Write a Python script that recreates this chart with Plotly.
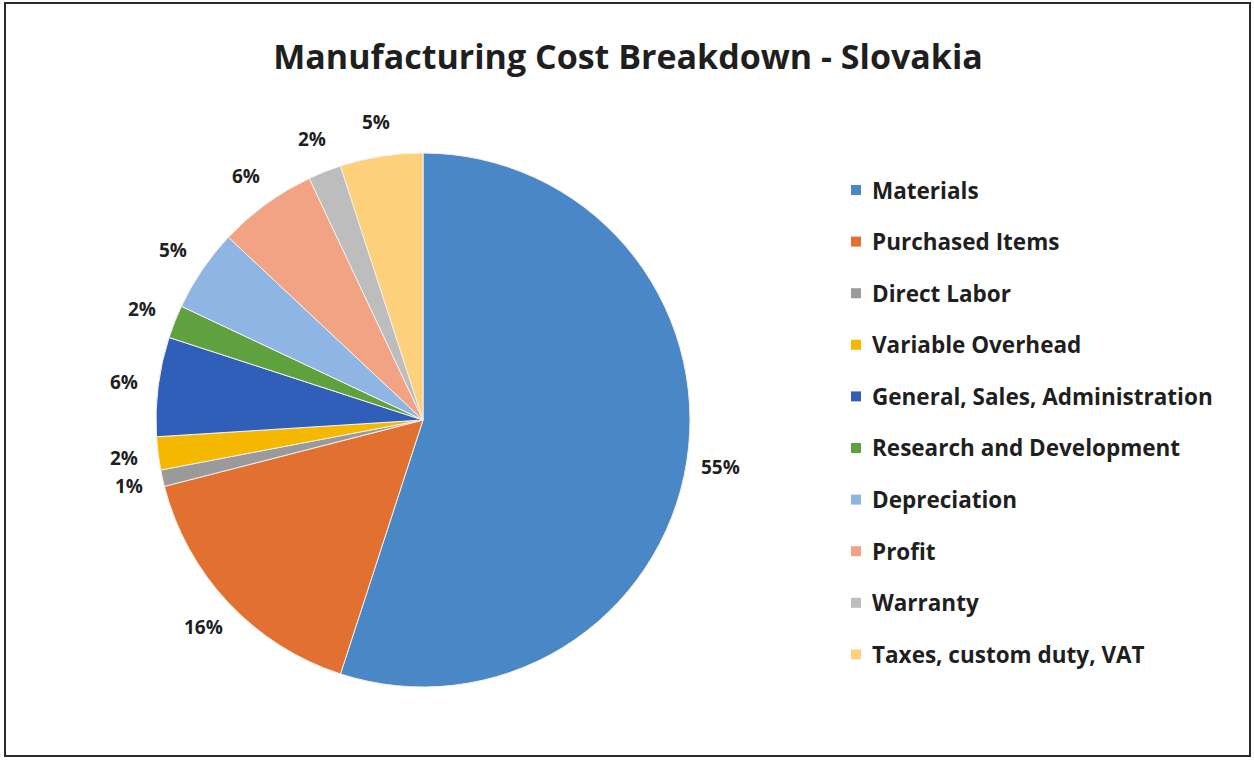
import math
import plotly.graph_objects as go

# Cost components and their share of the total (%)
categories = [
    "Materials", "Purchased Items", "Direct Labor", "Variable Overhead",
    "General, Sales, Administration", "Research and Development",
    "Depreciation", "Profit", "Warranty", "Taxes, custom duty, VAT",
]
shares = [55, 16, 1, 2, 6, 2, 5, 6, 2, 5]
colors = [
    "#4a87c6", "#e27131", "#9a9a9a", "#f5b800", "#2f5fb8",
    "#5fa03f", "#8eb5e3", "#f2a384", "#bdbdbd", "#fdd07c",
]

W, H = 1254, 760
cx, cy, R = 423, 420, 267          # pie centre and radius in pixels
FONT = "Open Sans"
TXT = "#1f1f1f"

fig = go.Figure()
fig.add_trace(go.Pie(
    labels=categories,
    values=shares,
    sort=False,
    direction="clockwise",
    rotation=0,
    marker=dict(colors=colors, line=dict(color="#f4efe8", width=1)),
    textinfo="none",
    hoverinfo="label+percent",
    showlegend=False,
    domain=dict(x=[(cx - R) / W, (cx + R) / W],
                y=[(H - cy - R) / H, (H - cy + R) / H]),
))

# Percentage labels placed outside each slice, along the slice's mid-angle
total = sum(shares)
cum = 0
annotations = []
for v in shares:
    mid = (cum + v / 2) / total * 2 * math.pi   # clockwise from 12 o'clock
    cum += v
    dist = R * 1.13
    px = cx + dist * math.sin(mid)
    py = cy - dist * math.cos(mid)
    annotations.append(dict(
        x=px / W, y=1 - py / H, xref="paper", yref="paper",
        text=f"<b>{round(v / total * 100)}%</b>", showarrow=False,
        font=dict(family=FONT, size=19, color=TXT),
        xanchor="center", yanchor="middle",
    ))

# Legend: coloured squares with bold labels, one row per category
shapes = []
leg_x, leg_y0, leg_dy = 856, 190, 51.6
for i, (name, col) in enumerate(zip(categories, colors)):
    y = leg_y0 + i * leg_dy
    shapes.append(dict(
        type="rect", xref="paper", yref="paper",
        x0=(leg_x - 5) / W, x1=(leg_x + 5) / W,
        y0=1 - (y + 5) / H, y1=1 - (y - 5) / H,
        fillcolor=col, line=dict(width=0),
    ))
    annotations.append(dict(
        x=(leg_x + 14) / W, y=1 - y / H, xref="paper", yref="paper",
        text=f"<b>{name}</b>", showarrow=False,
        font=dict(family=FONT, size=22.5, color=TXT),
        xanchor="left", yanchor="middle",
    ))

# Outer frame of the chart area
shapes.append(dict(
    type="rect", xref="paper", yref="paper",
    x0=5 / W, x1=1250 / W, y0=1 - 756 / H, y1=1 - 3 / H,
    line=dict(color="#2b2b2b", width=2), fillcolor="rgba(0,0,0,0)",
))

fig.update_layout(
    width=W, height=H,
    margin=dict(l=0, r=0, t=0, b=0),
    paper_bgcolor="white",
    plot_bgcolor="white",
    title=dict(
        text="<b>Manufacturing Cost Breakdown - Slovakia</b>",
        x=628 / W, xanchor="center", y=1 - 57 / H, yanchor="middle",
        font=dict(family=FONT, size=34, color=TXT),
    ),
    annotations=annotations,
    shapes=shapes,
)

fig.write_html("out.html")
